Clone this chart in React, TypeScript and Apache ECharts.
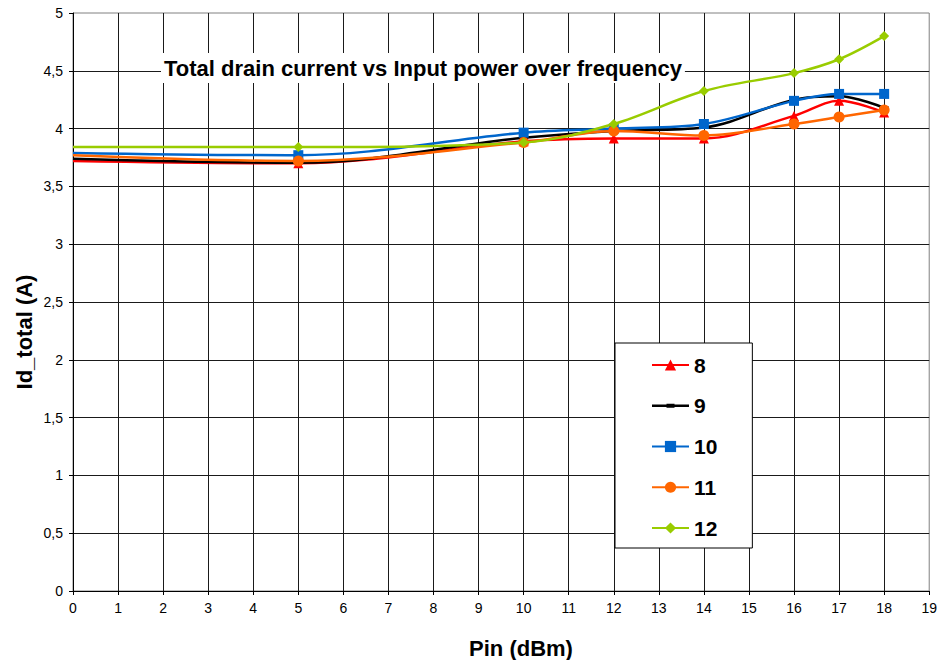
import React, { useEffect, useRef } from "react";
import * as echarts from "echarts";

const pinValues = [0, 5, 10, 12, 14, 16, 17, 18];
const seriesNames = ["8", "9", "10", "11", "12"];
const id8 = [3.72, 3.70, 3.89, 3.915, 3.915, 4.11, 4.24, 4.14];
const id9 = [3.74, 3.705, 3.92, 3.98, 4.01, 4.25, 4.28, 4.18];
const id10 = [3.79, 3.77, 3.965, 4.0, 4.04, 4.24, 4.30, 4.30];
const id11 = [3.77, 3.72, 3.88, 3.98, 3.94, 4.04, 4.10, 4.16];
const id12 = [3.84, 3.84, 3.88, 4.04, 4.325, 4.48, 4.60, 4.80];
const seriesValues = [id8, id9, id10, id11, id12];
const seriesColors = ["#FF0000", "#000000", "#0066CC", "#FF6600", "#99CC00"];
const seriesSymbols = ["triangle", "rect", "rect", "circle", "diamond"];
const seriesSymbolSizes: any[] = [10, [9, 3], 10, 11, 10];

const FONT = "'Liberation Sans', Arial, sans-serif";

export default function App() {
  const ref = useRef<HTMLDivElement>(null);
  useEffect(() => {
    if (!ref.current) return;
    const chart = echarts.init(ref.current, undefined, { renderer: "svg" });
    const series = seriesNames.map((name, si) => ({
      name,
      type: "line",
      smooth: 0.35,
      symbol: seriesSymbols[si],
      symbolSize: seriesSymbolSizes[si],
      showAllSymbol: true,
      lineStyle: { color: seriesColors[si], width: 2.5 },
      itemStyle: { color: seriesColors[si] },
      data: pinValues.map((x, i) =>
        i === 0
          ? { value: [x, seriesValues[si][i]], symbol: "none" }
          : [x, seriesValues[si][i]]
      ),
      z: 3 + si,
    }));
    const legendData = seriesNames.map((name, si) =>
      si === 1
        ? { name, icon: "path://M0,7.25h37v2.5h-37z M14.5,6.5h8v4h-8z" }
        : { name }
    );
    chart.setOption({
      animation: false,
      backgroundColor: "#ffffff",
      textStyle: { fontFamily: FONT },
      grid: {
        left: 73,
        top: 13,
        right: 7,
        bottom: 69,
        show: true,
        borderColor: "#808080",
        borderWidth: 1,
        backgroundColor: "transparent",
      },
      title: {
        text: "Total drain current vs Input power over frequency",
        left: 161,
        top: 53,
        padding: [4, 3, 4, 3],
        backgroundColor: "#ffffff",
        textStyle: { fontFamily: FONT, fontSize: 22, fontWeight: "bold", color: "#000", lineHeight: 22 },
        z: 10,
      },
      legend: {
        orient: "vertical",
        left: 615,
        top: 343,
        padding: [11, 35, 9, 36],
        itemWidth: 37,
        itemHeight: 14,
        itemGap: 18.75,
        backgroundColor: "#ffffff",
        borderColor: "#000000",
        borderWidth: 1,
        textStyle: {
          fontFamily: FONT,
          fontSize: 21,
          fontWeight: "bold",
          color: "#000",
          lineHeight: 22,
        },
        data: legendData,
      },
      xAxis: {
        type: "value",
        min: 0,
        max: 19,
        interval: 1,
        axisLine: { show: true, lineStyle: { color: "#000", width: 1 } },
        axisTick: { show: true, length: 4, lineStyle: { color: "#000" } },
        axisLabel: { fontFamily: FONT, fontSize: 14, color: "#000", margin: 10 },
        splitLine: { show: true, showMinLine: false, showMaxLine: false, lineStyle: { color: "#1a1a1a", width: 1 } },
      },
      yAxis: {
        type: "value",
        min: 0,
        max: 5,
        interval: 0.5,
        axisLine: { show: true, lineStyle: { color: "#000", width: 1 } },
        axisTick: { show: true, length: 4, lineStyle: { color: "#000" } },
        axisLabel: {
          fontFamily: FONT,
          fontSize: 14,
          color: "#000",
          margin: 10,
          formatter: (v: number) => String(v).replace(".", ","),
        },
        splitLine: { show: true, showMinLine: false, showMaxLine: false, lineStyle: { color: "#1a1a1a", width: 1 } },
      },
      graphic: [
        {
          type: "text",
          x: 521,
          y: 648,
          style: {
            text: "Pin (dBm)",
            font: `bold 22px ${FONT}`,
            fill: "#000",
            align: "center",
            verticalAlign: "middle",
          },
        },
        {
          type: "text",
          x: 24,
          y: 332,
          rotation: Math.PI / 2,
          style: {
            text: "Id_total (A)",
            font: `bold 22px ${FONT}`,
            fill: "#000",
            align: "center",
            verticalAlign: "middle",
          },
        },
      ],
      series,
    });
    return () => chart.dispose();
  }, []);
  return <div ref={ref} style={{ width: 940, height: 660, position: "absolute", left: 0, top: 0 }} />;
}
